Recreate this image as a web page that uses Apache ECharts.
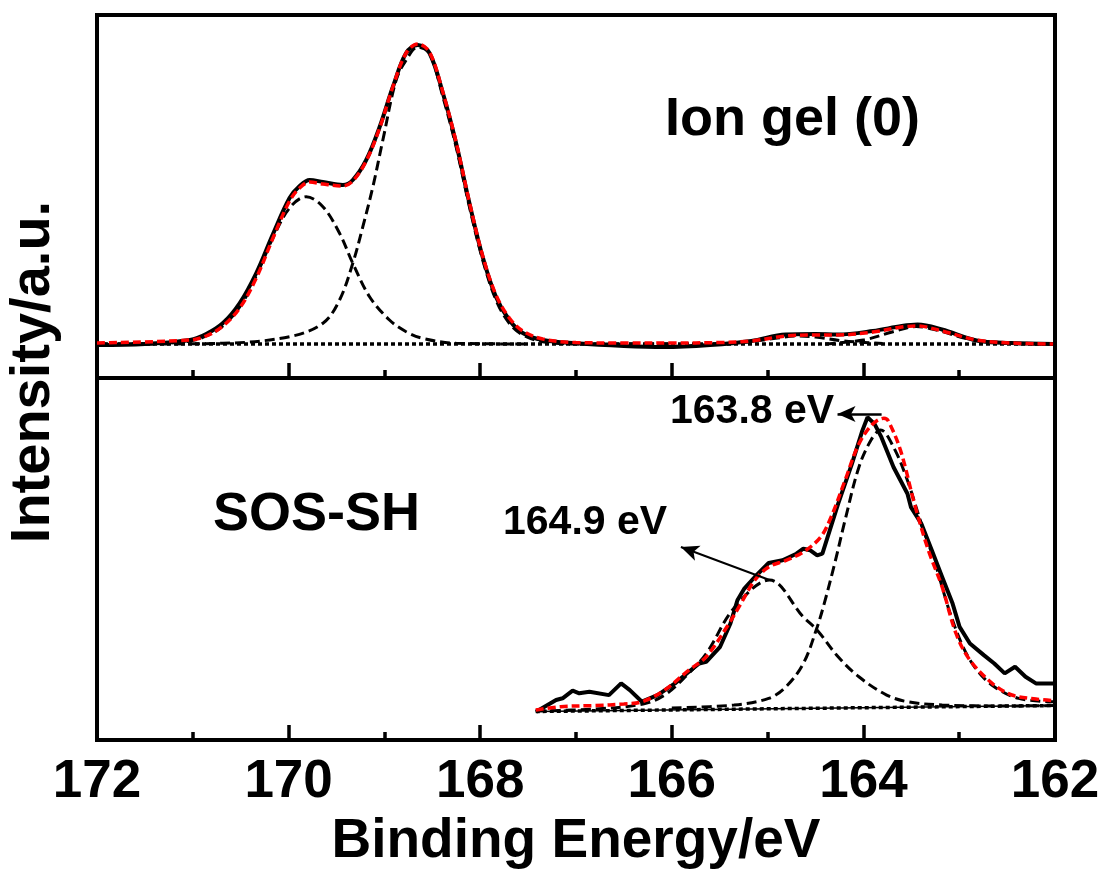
<!DOCTYPE html>
<html>
<head>
<meta charset="utf-8">
<title>S 2p XPS</title>
<script src="https://cdn.jsdelivr.net/npm/echarts@6/dist/echarts.min.js"></script>
<style>
  html, body { margin: 0; padding: 0; background: #fff; }
  #chart { width: 1106px; height: 875px; }
</style>
</head>
<body>
<div id="chart"></div>
<script>
// binding energy (eV) / intensity (a.u.)
// top panel: Ion gel (0)
const topExpBE = [172.0, 171.5, 171.03, 170.86, 170.685, 170.51, 170.337, 170.163, 169.99, 169.885, 169.78, 169.642, 169.433, 169.33, 169.19, 169.05, 168.912, 168.773, 168.651, 168.53, 168.39, 168.252, 168.113, 167.974, 167.835, 167.696, 167.556, 167.348, 167.0, 166.5, 166.08, 165.6, 165.17, 164.81, 164.5, 164.27, 163.9, 163.6, 163.435, 163.18, 162.82, 162.46, 162.02]
const topExp = [33, 34, 38, 44, 55, 75, 105, 144, 180, 192, 198, 196, 193, 198, 218, 251, 291, 325, 333, 325, 285, 235, 175, 121, 81, 58, 45, 38, 34.7, 32, 31, 33, 37, 43.5, 44, 43.5, 47, 52, 53.5, 48.5, 37.5, 35, 34]

const topFitBE = [172.0, 171.03, 170.86, 170.685, 170.51, 170.337, 170.163, 169.99, 169.885, 169.78, 169.642, 169.433, 169.33, 169.19, 169.05, 168.912, 168.773, 168.651, 168.53, 168.39, 168.252, 168.113, 167.974, 167.835, 167.696, 167.556, 167.348, 167.0, 166.5, 166.0, 165.5, 165.17, 164.81, 164.5, 164.27, 163.9, 163.6, 163.435, 163.18, 162.82, 162.46, 162.02]
const topFit = [35, 38, 42, 52, 70, 100, 140, 177, 190, 196, 194, 192, 197, 217, 250, 291, 325, 334, 326, 286, 236, 176, 122, 83, 60, 47, 39, 35.5, 35, 35, 35.5, 37, 42, 43, 43, 46, 51, 52, 47, 38, 35, 34]

const topP1BE = [172.0, 171.38, 171.032, 170.859, 170.685, 170.477, 170.302, 170.164, 169.99, 169.816, 169.642, 169.468, 169.33, 169.155, 168.947, 168.773, 168.6, 168.25, 167.5]
const topP1 = [34, 34.5, 37, 42, 52, 76, 110, 140, 170, 181.3, 171.3, 144.7, 114.7, 81.3, 58, 46.3, 39.7, 34.7, 34]

const topP2BE = [171.5, 170.685, 169.99, 169.642, 169.468, 169.33, 169.225, 169.12, 169.016, 168.877, 168.773, 168.651, 168.53, 168.39, 168.252, 168.113, 167.974, 167.835, 167.696, 167.556, 167.348, 167.0, 166.0]
const topP2 = [34, 34.7, 41.3, 54.7, 78, 114.7, 151.3, 191.3, 238, 298, 318, 331, 324.7, 281.3, 231.3, 171.3, 118, 78, 54.7, 43, 36.3, 34, 34]

const topP3BE = [165.6, 165.2, 164.9, 164.7, 164.5, 164.2, 163.8]
const topP3 = [34, 36, 40, 42, 41, 37, 34.5]
const topP4BE = [164.4, 164.0, 163.7, 163.45, 163.2, 162.9, 162.5, 162.0]
const topP4 = [34, 38, 46, 51.5, 47, 39, 34.5, 34]

const topBgBE = [172.0, 162.0]
const topBg = [34, 34]

// bottom panel: SOS-SH
const botExpBE = [167.417, 167.208, 167.14, 167.035, 166.966, 166.86, 166.656, 166.529, 166.438, 166.312, 166.149, 165.967, 165.822, 165.714, 165.641, 165.496, 165.388, 165.315, 165.243, 165.134, 164.989, 164.844, 164.699, 164.627, 164.554, 164.482, 164.428, 164.264, 164.12, 164.011, 163.957, 163.884, 163.812, 163.685, 163.54, 163.504, 163.395, 163.286, 163.178, 163.069, 162.996, 162.888, 162.743, 162.634, 162.525, 162.417, 162.308, 162.199, 162.018]
const botExp = [28.3, 40, 41.7, 49.3, 46.7, 48.3, 44.9, 56.6, 49.9, 38.3, 44.9, 56.6, 68.2, 76.5, 78.2, 93.2, 116.5, 139.8, 151.4, 163, 177, 179.7, 186.3, 191.3, 189.7, 184.7, 186.3, 236.2, 276.2, 309.4, 322.7, 316.1, 302.8, 272.8, 246.2, 232.9, 216.3, 189.7, 163.1, 136.4, 113.1, 96.5, 84.9, 76.5, 66.6, 73.2, 63.2, 56.6, 56.6]

const botFitBE = [167.42, 167.16, 166.8, 166.5, 166.31, 166.076, 165.822, 165.641, 165.424, 165.279, 165.134, 164.989, 164.808, 164.627, 164.446, 164.337, 164.192, 164.047, 163.902, 163.785, 163.74, 163.612, 163.467, 163.322, 163.178, 163.033, 162.888, 162.656, 162.45, 162.2, 162.018]
const botFit = [30, 33.3, 34.5, 36, 38.3, 49.9, 69.9, 83.2, 113.2, 136.4, 159.7, 173, 179.7, 188, 203, 223, 259.5, 296.1, 316, 321.7, 319, 289.5, 236.2, 189.7, 153.1, 106.5, 79.9, 56.7, 45, 41, 39.3]

const botP1BE = [167.42, 166.8, 166.3, 166.076, 165.859, 165.64, 165.35, 164.98, 164.627, 164.482, 164.264, 164.047, 163.757, 163.54, 163.178, 162.5, 162.0]
const botP1 = [29, 31, 36, 44.9, 63.2, 86.5, 132, 160, 123, 109.8, 83.2, 63.2, 44.9, 38.3, 35, 34, 34.5]

const botP2BE = [166.0, 165.35, 164.989, 164.808, 164.627, 164.482, 164.409, 164.3, 164.192, 164.047, 163.92, 163.82, 163.685, 163.54, 163.395, 163.25, 163.105, 162.96, 162.815, 162.634, 162.38, 162.018]
const botP2 = [32, 35, 41.6, 53.3, 76.5, 113.1, 136.4, 176.3, 219.6, 272.8, 300, 310, 292.8, 259.5, 216.3, 176.4, 129.8, 93.2, 69.9, 53.3, 41.6, 38.3]

const botBgBE = [167.42, 162.0]
const botBg = [28.5, 34.5]

// annotation arrows [from, to] in (eV, a.u.)
const arrow163 = [[163.81, 326], [164.27, 326]]
const arrow164 = [[164.98, 160], [165.905, 193]]

const xTicks = [172, 170, 168, 166, 164, 162]

const fontFamily = 'Arial, "Liberation Sans", sans-serif'

function zip(xs, ys) {
  return xs.map((x, i) => [x, ys[i]])
}

function line(name, idx, xs, ys, style, extra) {
  return Object.assign({
    name: name,
    type: 'line',
    xAxisIndex: idx,
    yAxisIndex: idx,
    data: zip(xs, ys),
    showSymbol: false,
    symbol: 'none',
    smooth: 0.35,
    lineStyle: style,
    silent: true
  }, extra || {})
}

const black = '#000'
const red = '#ff0000'
const compStyle = { color: black, width: 3, type: [10, 5] }
const bgStyle = { color: black, width: 3.5, type: [4, 3] }
const fitStyle = { color: red, width: 3.5, type: [8, 4] }

function xAxis(idx, showLabel) {
  return {
    type: 'value',
    gridIndex: idx,
    min: 162,
    max: 172,
    interval: 2,
    inverse: true,
    position: 'bottom',
    axisLine: { show: true, lineStyle: { color: black, width: 4 } },
    axisTick: { show: true, inside: true, length: 15, lineStyle: { color: black, width: 3.5 } },
    minorTick: { show: true, splitNumber: 2, length: 8, lineStyle: { color: black, width: 3.5 } },
    splitLine: { show: false },
    minorSplitLine: { show: false },
    axisLabel: {
      show: showLabel,
      color: black,
      fontSize: 53,
      fontWeight: 'bold',
      fontFamily: fontFamily,
      margin: 16,
      formatter: v => (xTicks.indexOf(v) >= 0 ? String(v) : '')
    },
    name: showLabel ? 'Binding Energy/eV' : '',
    nameLocation: 'middle',
    nameGap: 74,
    nameTextStyle: { color: black, fontSize: 55, fontWeight: 'bold', fontFamily: fontFamily }
  }
}

const chart = echarts.init(document.getElementById('chart'), null, { renderer: 'canvas' })

chart.setOption({
  animation: false,
  backgroundColor: '#fff',
  grid: [
    { left: 97, top: 15, width: 958, height: 363, outerBoundsMode: 'none', containLabel: false, show: true, borderColor: black, borderWidth: 4, backgroundColor: 'transparent' },
    { left: 97, top: 378, width: 958, height: 362, outerBoundsMode: 'none', containLabel: false, show: true, borderColor: black, borderWidth: 4, backgroundColor: 'transparent' }
  ],
  xAxis: [xAxis(0, false), xAxis(1, true)],
  yAxis: [
    { type: 'value', gridIndex: 0, min: 0, max: 363, show: false },
    { type: 'value', gridIndex: 1, min: 0, max: 362, show: false }
  ],
  series: [
    line('bg-top', 0, topBgBE, topBg, bgStyle, { smooth: false }),
    line('p1-top', 0, topP1BE, topP1, compStyle),
    line('p2-top', 0, topP2BE, topP2, compStyle),
    line('p3-top', 0, topP3BE, topP3, compStyle),
    line('p4-top', 0, topP4BE, topP4, compStyle),
    line('exp-top', 0, topExpBE, topExp, { color: black, width: 4 }),
    line('fit-top', 0, topFitBE, topFit, fitStyle),

    line('bg-bot', 1, botBgBE, botBg, { color: black, width: 1.5 }, { smooth: false }),
    line('bg-bot-dot', 1, botBgBE, botBg, bgStyle, { smooth: false }),
    line('p1-bot', 1, botP1BE, botP1, compStyle),
    line('p2-bot', 1, botP2BE, botP2, compStyle),
    line('exp-bot', 1, botExpBE, botExp, { color: black, width: 4 }, { smooth: false }),
    line('fit-bot', 1, botFitBE, botFit, fitStyle, {
      markLine: {
        silent: true,
        symbol: ['none', 'arrow'],
        symbolSize: [12, 18],
        label: { show: false },
        lineStyle: { color: black, width: 2.5, type: 'solid' },
        data: [
          [{ coord: arrow163[0] }, { coord: arrow163[1] }],
          [{ coord: arrow164[0], lineStyle: { width: 2 } }, { coord: arrow164[1] }]
        ]
      }
    })
  ],
  graphic: [
    {
      type: 'text', x: 34, y: 372, rotation: Math.PI / 2,
      style: { text: 'Intensity/a.u.', font: 'bold 56px ' + fontFamily, fill: black, textAlign: 'center', textVerticalAlign: 'middle' }
    },
    {
      type: 'text', left: 665, top: 93,
      style: { text: 'Ion gel (0)', font: 'bold 54px ' + fontFamily, fill: black }
    },
    {
      type: 'text', left: 213, top: 488,
      style: { text: 'SOS-SH', font: 'bold 54px ' + fontFamily, fill: black }
    },
    {
      type: 'text', left: 503, top: 502,
      style: { text: '164.9 eV', font: 'bold 41px ' + fontFamily, fill: black }
    },
    {
      type: 'text', left: 670, top: 391,
      style: { text: '163.8 eV', font: 'bold 41px ' + fontFamily, fill: black }
    }
  ]
})
</script>
</body>
</html>
